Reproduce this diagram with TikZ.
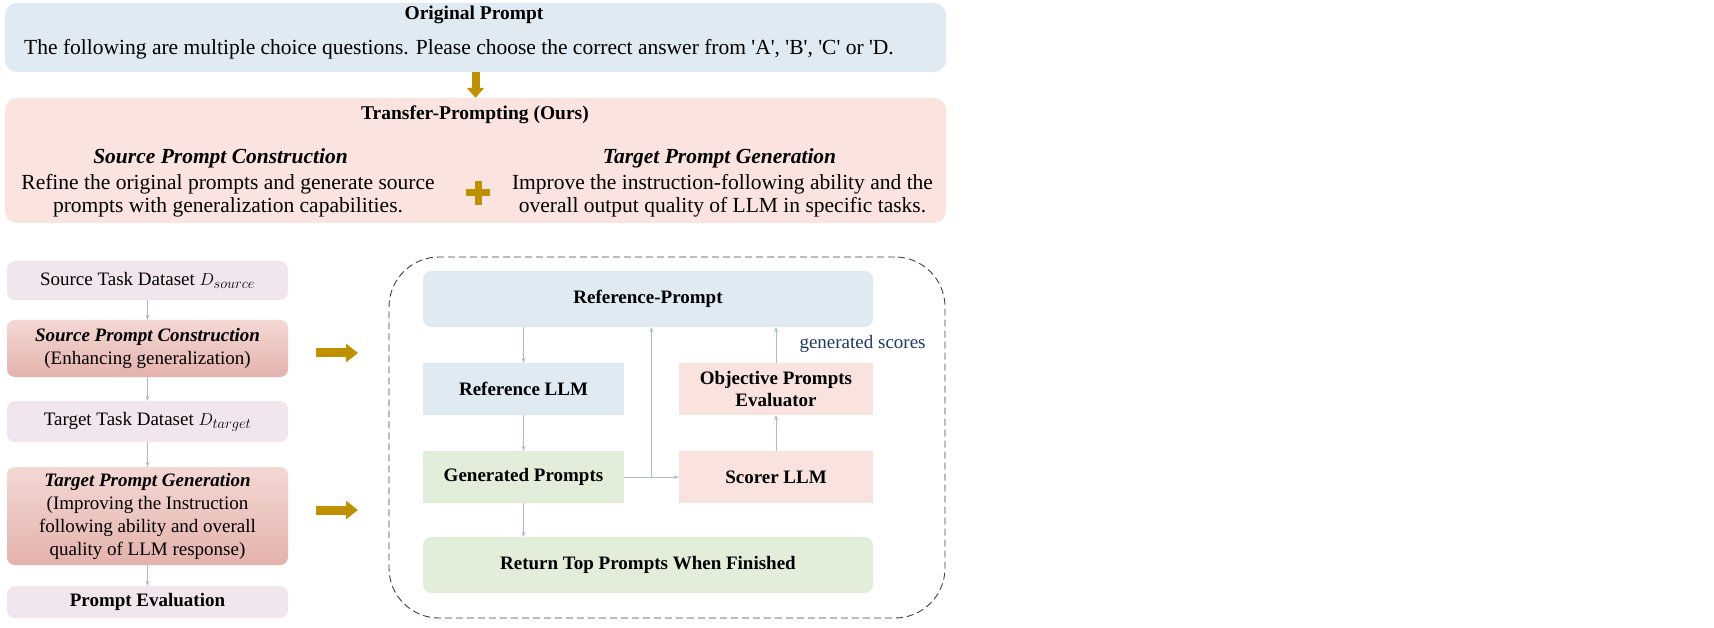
\documentclass[tikz,border=0pt]{standalone}
\usepackage{fontspec}
\setmainfont{Liberation Serif}
\usetikzlibrary{arrows.meta,calc}
\definecolor{topblue}{HTML}{DFEAF3}
\definecolor{tpink}{HTML}{FBE4E0}
\definecolor{lav}{HTML}{F1E6EE}
\definecolor{rosetop}{HTML}{F4D8D4}
\definecolor{rosebot}{HTML}{E4B2AC}
\definecolor{iblue}{HTML}{DFEAF3}
\definecolor{ipink}{HTML}{FAE3DE}
\definecolor{igreen}{HTML}{E2EEDA}
\definecolor{goldc}{HTML}{BF9000}
\definecolor{conn}{HTML}{A7BBD3}
\definecolor{navy}{HTML}{203864}
\newcommand\myfsA{\fontsize{19.5}{23}\selectfont}
\newcommand\myfsB{\fontsize{21.5}{23}\selectfont}
\newcommand\myfsC{\fontsize{19}{23}\selectfont}
\newcommand\myfsD{\fontsize{19}{22}\selectfont}
\tikzset{
  bigbox/.style={fill=#1, rounded corners=12pt, inner sep=0pt},
  lbox/.style={fill=lav, rounded corners=8pt, minimum width=281pt, inner sep=0pt, align=center, font=\myfsC},
  rbox/.style={lbox, top color=rosetop, bottom color=rosebot},
  ibox/.style={fill=#1, inner sep=0pt, align=center, font=\bfseries\myfsD, minimum height=52pt},
  wbox/.style={fill=#1, rounded corners=8pt, inner sep=0pt, font=\bfseries\myfsD, minimum width=450pt, minimum height=56pt},
  conn/.style={draw=conn, line width=0.9pt, -{Stealth[length=5pt,width=4pt]}},
  goldarr/.style={draw=goldc, line width=9pt, -{Triangle[length=12pt,width=18pt]}},
  dashbox/.style={draw=black!75, line width=0.9pt, dash pattern=on 7pt off 4pt, rounded corners=50pt, inner sep=0pt}
}
\begin{document}
\begin{tikzpicture}[x=1pt,y=-1pt]
\useasboundingbox (0,0) rectangle (1714,628);
% top: original prompt
\node[bigbox=topblue, minimum width=941pt, minimum height=69pt] (orig) at (475.5,37.5) {};
\node[font=\bfseries\myfsA] (origt) at (474,15) {Original Prompt};
\node[font=\myfsB] (origx) at (459,49) {The following are multiple choice questions. Please choose the correct answer from \textquotesingle A\textquotesingle, \textquotesingle B\textquotesingle, \textquotesingle C\textquotesingle\ or \textquotesingle D.};
% transfer box
\node[bigbox=tpink, minimum width=941pt, minimum height=125pt] (trans) at (475.5,160.5) {};
\node[font=\bfseries\myfsA] (transt) at (475,115) {Transfer-Prompting (Ours)};
\node[font=\bfseries\itshape\myfsB] (spch) at (220.5,158) {Source Prompt Construction};
\node[font=\myfsB, align=center] (spcx) at (228,195.5) {Refine the original prompts and generate source\\prompts with generalization capabilities.};
\node[font=\bfseries\itshape\myfsB] (tpgh) at (719.5,158) {Target Prompt Generation};
\node[font=\myfsB, align=center] (tpgx) at (722.5,195.5) {Improve the instruction-following ability and the\\overall output quality of LLM in specific tasks.};
\draw[draw=goldc, line width=8pt, -{Triangle[length=10pt,width=17pt]}] (orig.south) -- (trans.north);
\fill[goldc] (466,189.5) rectangle (490,196.5);
\fill[goldc] (474.5,181) rectangle (481.5,205);
% left column
\node[lbox, minimum height=39pt] (sd) at (147.5,280.5) {Source Task Dataset $D_{source}$};
\node[rbox, minimum height=57pt] (spc) at (147.5,348.5) {\textbf{\textit{Source Prompt Construction}}\\(Enhancing generalization)};
\node[lbox, minimum height=41pt] (td) at (147.5,421.5) {Target Task Dataset $D_{target}$};
\node[rbox, minimum height=98pt] (tpg) at (147.5,516) {\textbf{\textit{Target Prompt Generation}}\\(Improving the Instruction\\following ability and overall\\quality of LLM response)};
\node[lbox, minimum height=32pt, font=\bfseries\myfsC] (pe) at (147.5,602) {Prompt Evaluation};
\draw[conn] (sd) -- (spc);
\draw[conn] (spc) -- (td);
\draw[conn] (td) -- (tpg);
\draw[conn] (tpg) -- (pe);
% gold arrows
\coordinate (g1s) at (316,353); \coordinate (g1e) at (358,353);
\coordinate (g2s) at (316,510); \coordinate (g2e) at (358,510);
\draw[goldarr] (g1s) -- (g1e);
\draw[goldarr] (g2s) -- (g2e);
% loop box
\node[dashbox, minimum width=556pt, minimum height=361pt] (loop) at (667,437.5) {};
\node[wbox=iblue] (refp) at (648,299) {Reference-Prompt};
\node[ibox=iblue, minimum width=201pt] (refllm) at (523.5,389) {Reference LLM};
\node[ibox=ipink, minimum width=194pt] (obj) at (776,389) {Objective Prompts\\Evaluator};
\node[ibox=igreen, minimum width=201pt] (gen) at (523.5,477) {Generated Prompts};
\node[ibox=ipink, minimum width=194pt] (scor) at (776,477) {Scorer LLM};
\node[wbox=igreen] (ret) at (648,565) {Return Top Prompts When Finished};
\draw[conn] (refllm.north |- refp.south) -- (refllm.north);
\draw[conn] (refllm) -- (gen);
\draw[conn] (gen) -- (ret.north -| gen.south);
\draw[conn] (gen) -- (scor);
\coordinate (br) at ($(gen.east)!0.5!(scor.west)$);
\draw[conn] (br) -- (br |- refp.south);
\draw[conn] (scor) -- (obj);
\draw[conn] (obj.north) -- (obj.north |- refp.south);
\node[font=\myfsD, text=navy, anchor=west] (gs) at (796,344) {generated scores};
\end{tikzpicture}
\end{document}
